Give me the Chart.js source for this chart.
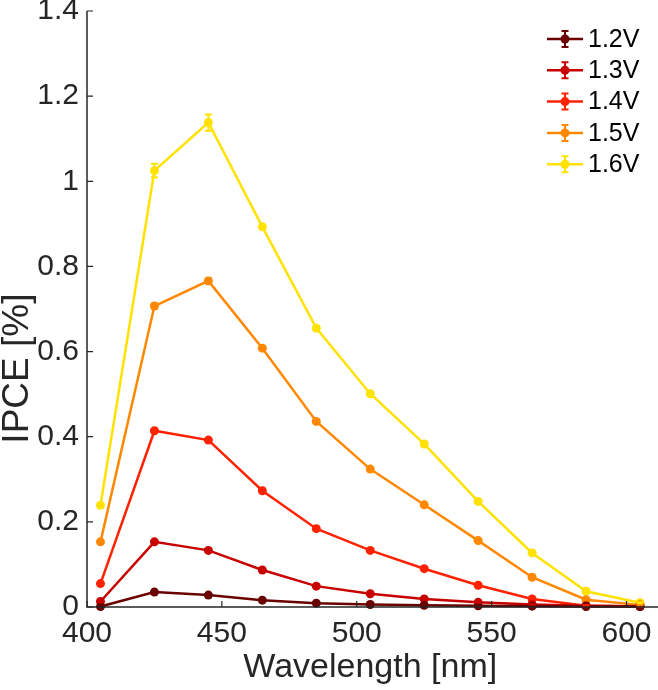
<!DOCTYPE html>
<html>
<head>
<meta charset="utf-8">
<script src="https://cdn.jsdelivr.net/npm/chart.js@4"></script>
<style>
  html, body { margin: 0; padding: 0; background: #fff; }
  #wrap { width: 658px; height: 690px; }
</style>
</head>
<body>
<div id="wrap"><canvas id="ipceChart" width="658" height="690"></canvas></div>
<script>
// wavelengths (nm)
const wavelengths = [405, 425, 445, 465, 485, 505, 525, 545, 565, 585, 605];

// IPCE [%] per bias
const ipce12 = [0.001, 0.035, 0.028, 0.016, 0.009, 0.006, 0.004, 0.003, 0.002, 0.001, 0.001];
const ipce13 = [0.013, 0.153, 0.133, 0.087, 0.049, 0.031, 0.019, 0.011, 0.006, 0.003, 0.002];
const ipce14 = [0.055, 0.414, 0.392, 0.273, 0.184, 0.133, 0.090, 0.051, 0.019, 0.003, 0.001];
const ipce15 = [0.153, 0.707, 0.766, 0.608, 0.436, 0.324, 0.240, 0.156, 0.070, 0.017, 0.005];
const ipce16 = [0.239, 1.025, 1.138, 0.893, 0.655, 0.501, 0.383, 0.248, 0.127, 0.037, 0.010];

// error bars (+/-)
const err12 = [0.001, 0.002, 0.002, 0.001, 0.001, 0.001, 0.001, 0.001, 0.001, 0.001, 0.001];
const err13 = [0.002, 0.003, 0.003, 0.002, 0.001, 0.001, 0.001, 0.001, 0.001, 0.001, 0.001];
const err14 = [0.002, 0.004, 0.004, 0.003, 0.002, 0.002, 0.001, 0.001, 0.001, 0.001, 0.001];
const err15 = [0.003, 0.006, 0.006, 0.004, 0.003, 0.003, 0.002, 0.002, 0.001, 0.001, 0.001];
const err16 = [0.004, 0.016, 0.019, 0.005, 0.004, 0.003, 0.003, 0.002, 0.002, 0.001, 0.001];

const seriesLabels = ["1.2V", "1.3V", "1.4V", "1.5V", "1.6V"];
const seriesColors = ["#6a0000", "#c80000", "#ff2200", "#ff8800", "#ffe200"];
const seriesValues = [ipce12, ipce13, ipce14, ipce15, ipce16];
const seriesErrors = [err12, err13, err14, err15, err16];

const yTicks = [0, 0.2, 0.4, 0.6, 0.8, 1, 1.2, 1.4];
const xTicks = [400, 450, 500, 550, 600];

const axisColor = "#262626";
const fontFamily = "'Liberation Sans', Arial, sans-serif";

// error bars + inward tick marks + y label + in-plot legend
const matlabLook = {
  id: "matlabLook",
  afterDatasetsDraw(chart) {
    const ctx = chart.ctx;
    const x = chart.scales.x, y = chart.scales.y;
    ctx.save();
    chart.data.datasets.forEach((ds, i) => {
      const errs = seriesErrors[i];
      ctx.strokeStyle = ds.borderColor;
      ctx.lineWidth = 2;
      ds.data.forEach((p, j) => {
        const px = x.getPixelForValue(p.x);
        const top = y.getPixelForValue(p.y + errs[j]);
        const bot = y.getPixelForValue(p.y - errs[j]);
        ctx.beginPath();
        ctx.moveTo(px, top); ctx.lineTo(px, bot);
        ctx.moveTo(px - 3.5, top); ctx.lineTo(px + 3.5, top);
        ctx.moveTo(px - 3.5, bot); ctx.lineTo(px + 3.5, bot);
        ctx.stroke();
      });
    });
    ctx.restore();
  },
  afterDraw(chart) {
    const ctx = chart.ctx;
    const x = chart.scales.x, y = chart.scales.y;
    const area = chart.chartArea;
    ctx.save();
    // axis lines
    ctx.strokeStyle = axisColor;
    ctx.lineWidth = 1.5;
    ctx.beginPath();
    ctx.moveTo(area.left, y.getPixelForValue(1.4));
    ctx.lineTo(area.left, area.bottom);
    ctx.lineTo(chart.width, area.bottom);
    ctx.stroke();
    // inward ticks
    ctx.lineWidth = 1.2;
    ctx.beginPath();
    yTicks.forEach(v => {
      const py = y.getPixelForValue(v);
      ctx.moveTo(area.left, py); ctx.lineTo(area.left + 6, py);
    });
    xTicks.forEach(v => {
      const px = x.getPixelForValue(v);
      ctx.moveTo(px, area.bottom); ctx.lineTo(px, area.bottom - 6);
    });
    ctx.stroke();

    // y axis label (sits a bit low, as in the original figure)
    ctx.save();
    ctx.translate(18, y.getPixelForValue(0.56));
    ctx.rotate(-Math.PI / 2);
    ctx.font = "37px " + fontFamily;
    ctx.fillStyle = axisColor;
    ctx.textAlign = "center";
    ctx.textBaseline = "middle";
    ctx.fillText("IPCE [%]", 0, 0);
    ctx.restore();

    // legend
    const lx0 = 547, lx1 = 583, mx = 565;
    ctx.font = "25px " + fontFamily;
    ctx.textBaseline = "middle";
    ctx.textAlign = "left";
    seriesLabels.forEach((label, i) => {
      const ly = 39 + i * 31.3;
      const c = seriesColors[i];
      ctx.strokeStyle = c;
      ctx.fillStyle = c;
      ctx.lineWidth = 2.5;
      ctx.beginPath();
      ctx.moveTo(lx0, ly); ctx.lineTo(lx1, ly);
      ctx.stroke();
      ctx.lineWidth = 2;
      ctx.beginPath();
      ctx.moveTo(mx, ly - 8); ctx.lineTo(mx, ly + 8);
      ctx.moveTo(mx - 3.5, ly - 8); ctx.lineTo(mx + 3.5, ly - 8);
      ctx.moveTo(mx - 3.5, ly + 8); ctx.lineTo(mx + 3.5, ly + 8);
      ctx.stroke();
      ctx.beginPath();
      ctx.arc(mx, ly, 4.5, 0, Math.PI * 2);
      ctx.fill();
      ctx.fillStyle = "#000";
      ctx.fillText(label, 588, ly + 1);
    });
    ctx.restore();
  }
};

const datasets = seriesLabels.map((label, i) => ({
  label: label,
  data: wavelengths.map((w, j) => ({ x: w, y: seriesValues[i][j] })),
  borderColor: seriesColors[i],
  backgroundColor: seriesColors[i],
  borderWidth: 2.5,
  pointRadius: 4.5,
  pointBorderWidth: 0,
  pointHoverRadius: 4.5,
  tension: 0
}));

new Chart(document.getElementById("ipceChart"), {
  type: "line",
  data: { datasets: datasets },
  plugins: [matlabLook],
  options: {
    responsive: false,
    animation: false,
    clip: false,
    layout: { padding: { top: 11, right: 0, left: 0, bottom: 0 } },
    plugins: {
      legend: { display: false },
      tooltip: { enabled: false }
    },
    scales: {
      x: {
        type: "linear",
        min: 400,
        max: 610,
        afterBuildTicks: s => { s.ticks = xTicks.map(v => ({ value: v })); },
        afterFit: s => { s.height = 83; s.paddingLeft = 0; s.paddingRight = 0; },
        grid: { display: false, drawTicks: false },
        border: { display: false },
        ticks: {
          color: axisColor,
          padding: 9,
          font: { family: fontFamily, size: 30 },
          maxRotation: 0
        },
        title: {
          display: true,
          text: "Wavelength [nm]",
          color: axisColor,
          padding: { top: 0, bottom: 2 },
          font: { family: fontFamily, size: 34 }
        }
      },
      y: {
        min: 0,
        max: 1.4,
        afterBuildTicks: s => { s.ticks = yTicks.map(v => ({ value: v })); },
        afterFit: s => { s.width = 87; s.paddingTop = 0; s.paddingBottom = 0; },
        grid: { display: false, drawTicks: false },
        border: { display: false },
        ticks: {
          color: axisColor,
          padding: 8,
          font: { family: fontFamily, size: 30 },
          callback: v => String(Math.round(v * 10) / 10)
        },
        title: { display: false }
      }
    }
  }
});
</script>
</body>
</html>
